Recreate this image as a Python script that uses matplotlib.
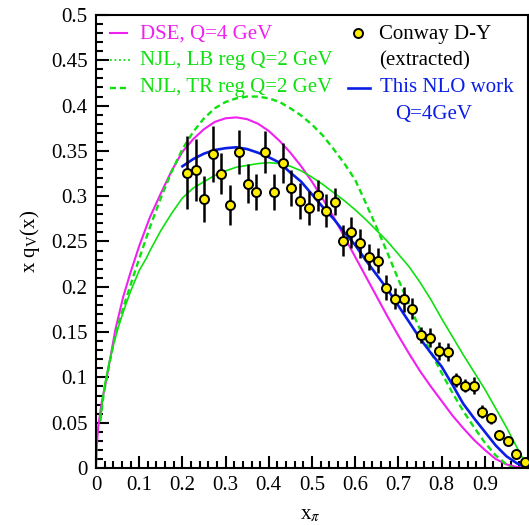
import numpy as np
import matplotlib
matplotlib.use('Agg')
import matplotlib.pyplot as plt
from matplotlib.lines import Line2D
from matplotlib.ticker import MultipleLocator, FuncFormatter

plt.rcParams['font.family'] = ['Liberation Serif', 'DejaVu Serif']
plt.rcParams['mathtext.fontset'] = 'stix'

# DSE, Q=4 GeV
dse_x = [0.0, 0.002, 0.005, 0.013, 0.025, 0.045, 0.063, 0.08, 0.1, 0.125, 0.15, 0.175, 0.2, 0.225,
         0.25, 0.275, 0.3, 0.325, 0.35, 0.375, 0.4, 0.425, 0.45, 0.475, 0.5, 0.525, 0.55, 0.575,
         0.6, 0.625, 0.65, 0.675, 0.7, 0.725, 0.75, 0.775, 0.8, 0.825, 0.85, 0.875, 0.9, 0.925,
         0.95, 0.975, 1.0]
dse_y = [0.0, 0.025, 0.045, 0.072, 0.10, 0.153, 0.189, 0.216, 0.245, 0.277, 0.303, 0.328, 0.349, 0.363,
         0.374, 0.382, 0.386, 0.387, 0.385, 0.380, 0.372, 0.361, 0.348, 0.333, 0.316, 0.297, 0.277, 0.255,
         0.233, 0.211, 0.189, 0.167, 0.146, 0.126, 0.107, 0.090, 0.074, 0.058, 0.044, 0.031, 0.020, 0.010,
         0.004, 0.001, 0.0]

# NJL, LB reg Q=2 GeV
lb_x = [0.01, 0.015, 0.02, 0.03, 0.04, 0.05, 0.065, 0.08, 0.1, 0.117, 0.125, 0.15, 0.175, 0.2, 0.225,
        0.25, 0.275, 0.3, 0.325, 0.35, 0.375, 0.4, 0.425, 0.45, 0.475, 0.5, 0.525, 0.55, 0.575, 0.6,
        0.625, 0.65, 0.675, 0.7, 0.725, 0.75, 0.775, 0.8, 0.825, 0.85, 0.875, 0.9, 0.925, 0.95, 0.975, 1.0]
lb_y = [0.052, 0.075, 0.092, 0.115, 0.135, 0.153, 0.175, 0.195, 0.218, 0.232, 0.240, 0.262, 0.281, 0.298, 0.309,
        0.316, 0.323, 0.328, 0.332, 0.334, 0.336, 0.337, 0.336, 0.333, 0.328, 0.321, 0.313, 0.304, 0.295, 0.285,
        0.274, 0.262, 0.250, 0.236, 0.222, 0.205, 0.186, 0.165, 0.145, 0.125, 0.106, 0.087, 0.066, 0.045, 0.022, 0.0]

# NJL, TR reg Q=2 GeV
tr_x = [0.01, 0.017, 0.028, 0.044, 0.063, 0.086, 0.1, 0.125, 0.15, 0.175, 0.2, 0.225, 0.25, 0.275, 0.3,
        0.325, 0.35, 0.375, 0.4, 0.425, 0.45, 0.475, 0.5, 0.525, 0.55, 0.575, 0.6, 0.625, 0.65, 0.675,
        0.7, 0.725, 0.75, 0.775, 0.8, 0.825, 0.85, 0.875, 0.9, 0.925, 0.95, 0.965]
tr_y = [0.052, 0.079, 0.108, 0.145, 0.177, 0.211, 0.231, 0.266, 0.298, 0.327, 0.352, 0.371, 0.386, 0.397, 0.404,
        0.408, 0.410, 0.410, 0.408, 0.404, 0.397, 0.389, 0.379, 0.367, 0.352, 0.336, 0.318, 0.292, 0.265, 0.237,
        0.208, 0.180, 0.153, 0.128, 0.105, 0.083, 0.063, 0.045, 0.028, 0.014, 0.004, 0.0]

# This NLO work, Q=4 GeV
nlo_x = [0.2, 0.225, 0.25, 0.275, 0.3, 0.325, 0.35, 0.375, 0.4, 0.425, 0.45, 0.475, 0.5, 0.525, 0.55,
         0.575, 0.6, 0.625, 0.65, 0.675, 0.7, 0.725, 0.75, 0.775, 0.8, 0.825, 0.85, 0.875, 0.9, 0.925,
         0.95, 0.975, 1.0]
nlo_y = [0.333, 0.341, 0.347, 0.351, 0.353, 0.354, 0.352, 0.348, 0.343, 0.337, 0.326, 0.316, 0.302, 0.288, 0.275,
         0.260, 0.246, 0.229, 0.213, 0.197, 0.179, 0.161, 0.143, 0.127, 0.112, 0.092, 0.071, 0.055, 0.040, 0.025,
         0.013, 0.005, 0.0]

# Conway D-Y (extracted)
cw_x = [0.211, 0.231, 0.250, 0.270, 0.290, 0.311, 0.331, 0.351, 0.371, 0.392, 0.412, 0.432, 0.452, 0.473,
        0.493, 0.514, 0.533, 0.553, 0.571, 0.591, 0.612, 0.633, 0.652, 0.672, 0.692, 0.712, 0.732, 0.752,
        0.773, 0.793, 0.814, 0.834, 0.854, 0.874, 0.894, 0.914, 0.934, 0.954, 0.973, 0.993]
cw_y = [0.326, 0.329, 0.297, 0.347, 0.325, 0.290, 0.349, 0.314, 0.305, 0.349, 0.305, 0.337, 0.309, 0.295,
        0.287, 0.301, 0.284, 0.294, 0.251, 0.260, 0.248, 0.233, 0.229, 0.199, 0.187, 0.186, 0.176, 0.147,
        0.144, 0.129, 0.128, 0.097, 0.091, 0.091, 0.062, 0.055, 0.036, 0.030, 0.016, 0.007]
cw_err = [0.040, 0.034, 0.025, 0.031, 0.023, 0.022, 0.024, 0.022, 0.020, 0.023, 0.020, 0.022, 0.020, 0.020,
          0.019, 0.017, 0.018, 0.015, 0.017, 0.017, 0.016, 0.014, 0.014, 0.014, 0.012, 0.014, 0.012, 0.009,
          0.010, 0.010, 0.010, 0.008, 0.007, 0.009, 0.007, 0.006, 0.005, 0.004, 0.004, 0.003]

MAGENTA = '#f020f0'
GREEN = '#10e010'
BLUE = '#0a1ee6'
W, H = 529, 525

fig = plt.figure(figsize=(W / 100, H / 100), dpi=100)
ax = fig.add_axes([96 / W, 1 - 468 / H, 432 / W, 453 / H])

ax.plot(dse_x, dse_y, color=MAGENTA, lw=1.5)
ax.plot(lb_x, lb_y, color=GREEN, lw=1.2)
ax.plot(tr_x, tr_y, color=GREEN, lw=1.7, linestyle=(0, (2.6, 1.6)))
ax.plot(nlo_x, nlo_y, color=BLUE, lw=1.9)
ax.errorbar(cw_x, cw_y, yerr=cw_err, fmt='o', color='black', ms=6.5, mfc='#ffee00', mec='black',
            mew=1.4, elinewidth=1.8, capsize=0, zorder=5)

ax.set_xlim(0, 1)
ax.set_ylim(0, 0.5)
ax.xaxis.set_major_locator(MultipleLocator(0.1))
ax.xaxis.set_minor_locator(MultipleLocator(0.02))
ax.yaxis.set_major_locator(MultipleLocator(0.05))
ax.yaxis.set_minor_locator(MultipleLocator(0.01))
ax.xaxis.set_major_formatter(FuncFormatter(lambda v, p: '' if v > 0.95 else f'{v:g}'))
ax.yaxis.set_major_formatter(FuncFormatter(lambda v, p: f'{v:g}'))
ax.tick_params(which='both', direction='in', top=False, right=False, width=1.5, labelsize=15)
ax.tick_params(which='major', length=9, pad=6)
ax.tick_params(which='minor', length=5)
for s in ax.spines.values():
    s.set_linewidth(1.5)

ax.set_ylabel(r'x q$_{\mathregular{V}}$(x)', fontsize=15)
ax.yaxis.set_label_coords((42 - 96) / 432, 0.5)
ax.set_xlabel(r'x$_\pi$', fontsize=15)
ax.xaxis.set_label_coords((310 - 96) / 432, (468 - 505) / 453)


# legend drawn by hand, positions in pixels of the figure
def fx(px):
    return px / W


def fy(py):
    return 1 - py / H


fig.add_artist(Line2D([fx(110), fx(127)], [fy(33), fy(33)], color=MAGENTA, lw=1.5))
fig.add_artist(Line2D([fx(110), fx(132)], [fy(60), fy(60)], color=GREEN, lw=1.3, linestyle=(0, (1, 1.5))))
fig.add_artist(Line2D([fx(110), fx(130)], [fy(88), fy(88)], color=GREEN, lw=1.7, linestyle=(0, (2.6, 1.6))))
fig.add_artist(Line2D([fx(348), fx(370)], [fy(88), fy(88)], color=BLUE, lw=1.9))
fig.add_artist(Line2D([fx(358)], [fy(33)], marker='o', ms=6.5, mfc='#ffee00', mec='black', mew=1.4))

fig.text(fx(140), fy(34), 'DSE, Q=4 GeV', color=MAGENTA, fontsize=15, va='center')
fig.text(fx(140), fy(61), 'NJL, LB reg Q=2 GeV', color=GREEN, fontsize=15, va='center')
fig.text(fx(140), fy(88), 'NJL, TR reg Q=2 GeV', color=GREEN, fontsize=15, va='center')
fig.text(fx(379), fy(34), 'Conway D-Y', color='black', fontsize=15, va='center')
fig.text(fx(379), fy(61), '(extracted)', color='black', fontsize=15, va='center')
fig.text(fx(380), fy(88), 'This NLO work', color=BLUE, fontsize=15, va='center')
fig.text(fx(395), fy(115), 'Q=4GeV', color=BLUE, fontsize=15, va='center')

fig.savefig('out.png', dpi=100)
